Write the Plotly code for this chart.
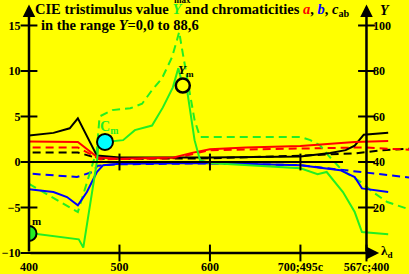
import plotly.graph_objects as go

# ---------------- data ----------------
green_solid_x = [400, 455, 460, 475, 477, 484, 504, 517, 536, 548, 559, 565, 570, 575, 583, 589, 600, 700, 719, 729, 747, 760, 768, 797]
green_solid_y = [-7.8, -8.5, -9.4, 0.0, 2.2, 2.2, 2.4, 3.5, 4.0, 6.0, 8.2, 10.3, 8.4, 7.7, 2.4, 0.2, -0.1, -0.7, -1.35, -1.1, -3.3, -5.5, -7.7, -7.95]

green_dash_x = [400, 454, 475, 478, 492, 512, 525, 536, 547, 558, 563, 566, 569, 578, 583, 589, 700, 711, 722, 731, 746, 769, 780, 796, 820]
green_dash_y = [-2.4, -5.5, 1.3, 5.0, 5.7, 5.9, 6.4, 7.9, 9.2, 11.5, 13.2, 14.3, 12.5, 7.5, 4.6, 2.75, 2.75, 2.4, 1.8, 0.7, -0.9, -2.35, -3.3, -4.4, -5.2]

black_solid_x = [400, 427, 445, 454, 475, 500, 600, 700, 733, 750, 760, 767, 770, 797]
black_solid_y = [2.9, 3.2, 3.7, 4.8, 0.7, 0.5, 0.5, 0.6, 1.0, 1.3, 1.8, 2.7, 3.0, 3.2]

black_dash_x = [404, 454, 478, 600, 700, 760, 790, 820]
black_dash_y = [1.05, 1.05, 0.35, 0.4, 0.7, 0.95, 1.28, 1.45]

red_solid_x = [400, 454, 476, 500, 560, 580, 600, 640, 700, 760, 797]
red_solid_y = [2.25, 2.2, 0.5, 0.35, 0.5, 1.0, 1.4, 1.6, 1.75, 2.2, 2.3]

red_dash_x = [404, 454, 478, 560, 600, 700, 770, 820]
red_dash_y = [1.6, 1.6, 0.3, 0.4, 1.3, 1.5, 1.6, 1.35]

blue_solid_x = [400, 427, 442, 454, 464, 475, 482, 500, 600, 700, 744, 760, 768, 797]
blue_solid_y = [-3.0, -3.3, -3.85, -4.75, -3.3, -1.1, -0.35, -0.2, -0.1, -0.35, -0.9, -1.65, -2.9, -3.3]

blue_dash_x = [404, 453, 470, 476, 500, 600, 700, 766, 810, 820]
blue_dash_y = [-1.3, -1.65, -1.1, -0.4, -0.25, -0.15, -0.35, -1.1, -1.57, -1.7]

# marked points
cm_point = (484, 2.2)
ym_point = (570, 8.4)
left_point = (400, -7.85)

# axes / ticks
x_tickvals = [400, 500, 600, 700, 773]
x_ticktext = ["400", "500", "600", "700;495c", "567c;400"]
y_tickvals = [-10, -5, 0, 5, 10, 15]
y_ticktext = ["\u221210", "\u22125", "0", "5", "10", "15"]
y2_tickvals = [20, 40, 60, 80, 100]
y2_ticktext = ["20", "40", "60", "80", "100"]

X0, X1 = 400, 820
Y0, Y1 = -10, 17.8
XR = 773  # right axis position

GREEN = "#22ee22"
RED = "#ff0000"
BLUE = "#0000ff"
BG = "#ffff00"
FONT = "Liberation Serif"
DASH = "8px,5px"

fig = go.Figure()

def line(x, y, color, dash=None, width=2):
    fig.add_trace(go.Scatter(x=x, y=y, mode="lines",
                             line=dict(color=color, width=width, dash=dash),
                             showlegend=False, hoverinfo="skip"))

line(black_dash_x, black_dash_y, "black", DASH)
line(red_dash_x, red_dash_y, RED, DASH)
line(blue_dash_x, blue_dash_y, BLUE, DASH)
line(green_dash_x, green_dash_y, GREEN, DASH)
line(black_solid_x, black_solid_y, "black")
line(red_solid_x, red_solid_y, RED)
line(blue_solid_x, blue_solid_y, BLUE)
line(green_solid_x, green_solid_y, GREEN)

# zero line
fig.add_shape(type="line", x0=400, x1=747, y0=0, y1=0, xref="x", yref="y",
              line=dict(color="black", width=2))

# ticks crossing axes
fig.add_trace(go.Scatter(x=[500, 600, 700, XR, 500, 600, 700], y=[-10, -10, -10, -10, 0, 0, 0],
                         mode="markers", cliponaxis=False,
                         marker=dict(symbol="line-ns", size=12, line=dict(color="black", width=2)),
                         showlegend=False, hoverinfo="skip"))
fig.add_trace(go.Scatter(x=[400] * 6 + [XR] * 5, y=y_tickvals + [-5, 0, 5, 10, 15],
                         mode="markers", cliponaxis=False,
                         marker=dict(symbol="line-ew", size=12, line=dict(color="black", width=2)),
                         showlegend=False, hoverinfo="skip"))

# circles
fig.add_trace(go.Scatter(x=[left_point[0]], y=[left_point[1]], mode="markers",
                         marker=dict(size=15, color=GREEN, line=dict(color="black", width=2)),
                         showlegend=False, hoverinfo="skip"))
fig.add_trace(go.Scatter(x=[cm_point[0]], y=[cm_point[1]], mode="markers", cliponaxis=False,
                         marker=dict(size=16, color="#00ffff", line=dict(color="black", width=2)),
                         showlegend=False, hoverinfo="skip"))
fig.add_trace(go.Scatter(x=[ym_point[0]], y=[ym_point[1]], mode="markers", cliponaxis=False,
                         marker=dict(size=14, color=BG, line=dict(color="black", width=2.5)),
                         showlegend=False, hoverinfo="skip"))

# dummy trace for right axis
fig.add_trace(go.Scatter(x=[XR], y=[40], yaxis="y2", mode="markers",
                         marker=dict(size=1, color="rgba(0,0,0,0)"), showlegend=False, hoverinfo="skip"))

# axis arrows
def arrow(x, y, ax, ay):
    fig.add_annotation(x=x, y=y, ax=ax, ay=ay, xref="x", yref="y", axref="x", ayref="y",
                       showarrow=True, arrowhead=2, arrowsize=1, arrowwidth=2.5,
                       arrowcolor="black", text="")

arrow(400, 17.3, 400, -10)
arrow(XR, 17.3, XR, -10)
arrow(787, -10, 400, -10)

def label(x, y, text, size=13, color="black", xanchor="center"):
    fig.add_annotation(x=x, y=y, xref="x", yref="y", text=text, showarrow=False,
                       xanchor=xanchor, yanchor="middle",
                       font=dict(family=FONT, size=size, color=color))

label(570, 17.75, "<b>max</b>", size=9)
label(404, 16.7,
      "<b>CIE tristimulus value <i><span style='color:%s'>Y</span></i> and chromaticities "
      "<i><span style='color:%s'>a</span></i>, <i><span style='color:%s'>b</span></i>, "
      "<i>c</i><sub>ab</sub></b>" % (GREEN, RED, BLUE), size=14.5, xanchor="left")
label(411, 15.1, "<b>in the range <i>Y</i>=0,0 to 88,6</b>", size=14.5, xanchor="left")
label(786, 16.6, "<b><i>Y</i></b>", size=14, xanchor="left")
label(787, -9.8, "<b>\u03bb<sub>d</sub></b>", size=13, xanchor="left")
label(488, 3.8, "<b>C<sub>m</sub></b>", size=14, color=GREEN)
label(573, 10.1, "<b><i>Y</i><sub>m</sub></b>", size=13)
label(408, -6.5, "<b>m</b>", size=11)

fig.update_layout(
    width=409, height=274,
    margin=dict(l=29, r=0, t=0, b=21),
    paper_bgcolor=BG, plot_bgcolor=BG,
    xaxis=dict(range=[X0, X1], showgrid=False, zeroline=False, showline=False,
               tickvals=x_tickvals, ticktext=x_ticktext, ticks="outside", ticklen=3,
               tickcolor="rgba(0,0,0,0)",
               tickfont=dict(family=FONT, size=12, color="black", weight="bold")),
    yaxis=dict(range=[Y0, Y1], showgrid=False, zeroline=False, showline=False,
               tickvals=y_tickvals, ticktext=y_ticktext, ticks="outside", ticklen=5,
               tickcolor="rgba(0,0,0,0)",
               tickfont=dict(family=FONT, size=12, color="black", weight="bold")),
    yaxis2=dict(range=[(Y0) * 4 + 40, Y1 * 4 + 40], overlaying="y", anchor="free",
                position=(XR - X0) / (X1 - X0), side="right",
                showgrid=False, zeroline=False, showline=False,
                tickvals=y2_tickvals, ticktext=y2_ticktext, ticks="outside", ticklen=3,
                tickcolor="rgba(0,0,0,0)",
                tickfont=dict(family=FONT, size=12, color="black", weight="bold")),
)

fig.write_html("out.html", config={"displayModeBar": False},
               post_script="document.body.style.margin='0';document.body.style.background='#ffff00';")
